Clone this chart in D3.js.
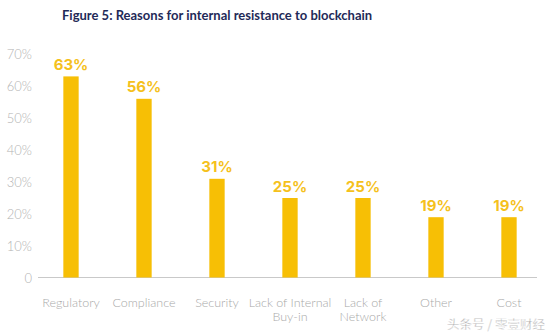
<!DOCTYPE html>
<html>
<head>
<meta charset="utf-8">
<script src="https://cdn.jsdelivr.net/npm/d3@7"></script>
<style>
  body { margin: 0; background: #fff; }
  .chart text { font-family: Lato, "Open Sans", sans-serif; }
</style>
</head>
<body>
<div class="chart"></div>
<script>
// data
var categories = ["Regulatory", "Compliance", "Security", "Lack of Internal|Buy-in", "Lack of|Network", "Other", "Cost"];
var values = [63, 56, 31, 25, 25, 19, 19];
var yTicks = [0, 10, 20, 30, 40, 50, 60, 70];

var width = 554;
var height = 335;
var barColor = "#F7BF05";
var labelColor = "#F5C11C";

var svg = d3
  .select(".chart")
  .append("svg")
  .attr("width", width)
  .attr("height", height);

// title
svg
  .append("text")
  .attr("x", 62)
  .attr("y", 19.5)
  .attr("fill", "#1f2a58")
  .attr("font-size", 13)
  .attr("font-weight", 700)
  .text("Figure 5: Reasons for internal resistance to blockchain");

// scales
var xScale = d3
  .scaleBand()
  .domain(categories)
  .range([34.5, 545.5])
  .paddingInner(0.79)
  .paddingOuter(0.395);
var yScale = d3.scaleLinear().domain([0, 70]).range([278, 54]);

// y axis, labels only
var yAxis = d3
  .axisLeft(yScale)
  .tickValues(yTicks)
  .tickSize(0)
  .tickPadding(0)
  .tickFormat((d) => (d === 0 ? "0" : d + "%"));
var yG = svg.append("g").attr("transform", "translate(32, 0)").call(yAxis);
yG.select(".domain").remove();
yG.selectAll("text")
  .attr("fill", "#b3b3b3")
  .attr("font-size", 13)
  .attr("font-weight", 300);

// baseline
svg
  .append("line")
  .attr("x1", 38)
  .attr("x2", 537)
  .attr("y1", yScale(0) - 0.5)
  .attr("y2", yScale(0) - 0.5)
  .attr("stroke", "#c9c9c9")
  .attr("stroke-width", 1);

// bars
svg
  .append("g")
  .selectAll("rect")
  .data(values)
  .enter()
  .append("rect")
  .attr("x", (d, i) => xScale(categories[i]))
  .attr("width", xScale.bandwidth())
  .attr("y", (d) => yScale(d))
  .attr("height", (d) => yScale(0) - 0.5 - yScale(d))
  .attr("fill", barColor);

// value labels
svg
  .append("g")
  .selectAll("text")
  .data(values)
  .enter()
  .append("text")
  .attr("x", (d, i) => xScale(categories[i]) + xScale.bandwidth() / 2)
  .attr("y", (d) => yScale(d) - 6.5)
  .attr("text-anchor", "middle")
  .attr("fill", labelColor)
  .style("font-family", "Inter, sans-serif")
  .attr("font-size", 15)
  .attr("font-weight", 700)
  .text((d) => d + "%");

// x labels (two lines where needed)
var xLabels = svg
  .append("g")
  .selectAll("text")
  .data(categories)
  .enter()
  .append("text")
  .attr("text-anchor", "middle")
  .attr("fill", "#a9a9a9")
  .attr("font-size", 12.5)
  .attr("font-weight", 300)
  .attr("transform", (d) => `translate(${xScale(d) + xScale.bandwidth() / 2}, 306.5)`);
xLabels
  .selectAll("tspan")
  .data((d) => d.split("|"))
  .enter()
  .append("tspan")
  .attr("x", 0)
  .attr("dy", (d, i) => (i === 0 ? 0 : 14.5))
  .text((d) => d);

// watermark
svg
  .append("text")
  .attr("x", 545)
  .attr("y", 329)
  .attr("text-anchor", "end")
  .style("font-family", "'Noto Sans CJK SC', sans-serif")
  .attr("font-size", 12.5)
  .attr("fill", "#9a9a9a")
  .attr("stroke", "#ffffff")
  .attr("stroke-width", 0.4)
  .text("头条号 / 零壹财经");
</script>
</body>
</html>
